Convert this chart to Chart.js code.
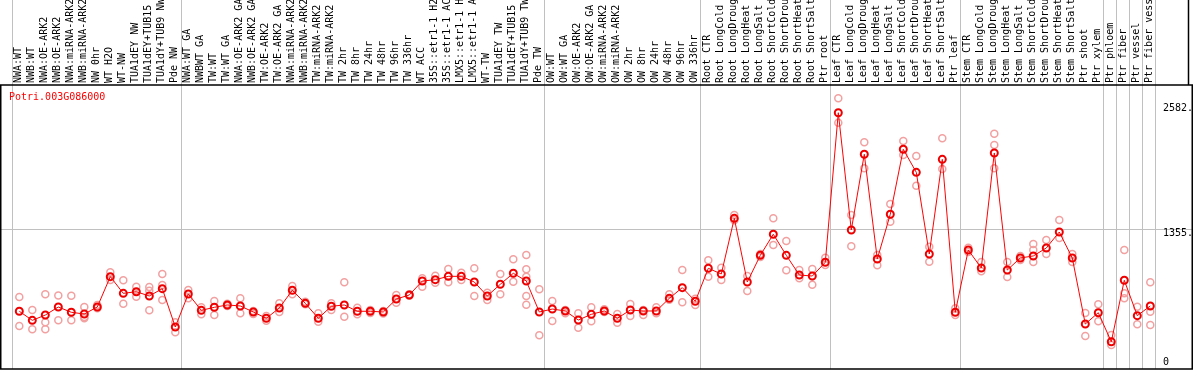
<!DOCTYPE html>
<html>
<head>
<meta charset="utf-8">
<script src="https://cdn.jsdelivr.net/npm/chart.js@4/dist/chart.umd.min.js"></script>
<style>
  html, body { margin: 0; padding: 0; background: #fff; }
  #wrap { width: 1194px; height: 370px; }
</style>
</head>
<body>
<div id="wrap"><canvas id="lineChart" width="1194" height="370"></canvas></div>
<script>
// sample names (top axis)
const labels = [
  "NWA:WT", "NWB:WT", "NWA:OE-ARK2", "NWB:OE-ARK2", "NWA:miRNA-ARK2", "NWB:miRNA-ARK2",
  "NW 0hr", "WT H2O", "WT-NW", "TUA1dEY NW", "TUA1dEY+TUB15 NW", "TUA1dY+TUB9 NW", "Pde NW",
  "NWA:WT GA", "NWBWT GA", "TW:WT", "TW:WT GA", "NWA:OE-ARK2 GA", "NWB:OE-ARK2 GA",
  "TW:OE-ARK2", "TW:OE-ARK2 GA", "NWA:miRNA-ARK2", "NWB:miRNA-ARK2", "TW:miRNA-ARK2", "TW:miRNA-ARK2",
  "TW 2hr", "TW 8hr", "TW 24hr", "TW 48hr", "TW 96hr", "TW 336hr", "WT ACC",
  "35S::etr1-1 H2O", "35S::etr1-1 ACC", "LMX5::etr1-1 H2O", "LMX5::etr1-1 ACC",
  "WT-TW", "TUA1dEY TW", "TUA1dEY+TUB15 TW", "TUA1dY+TUB9 TW", "Pde TW",
  "OW:WT", "OW:WT GA", "OW:OE-ARK2", "OW:OE-ARK2 GA", "OW:miRNA-ARK2", "OW:miRNA-ARK2",
  "OW 2hr", "OW 8hr", "OW 24hr", "OW 48hr", "OW 96hr", "OW 336hr",
  "Root CTR", "Root LongCold", "Root LongDrought", "Root LongHeat", "Root LongSalt",
  "Root ShortCold", "Root ShortDrought", "Root ShortHeat", "Root ShortSalt", "Ptr root",
  "Leaf CTR", "Leaf LongCold", "Leaf LongDrought", "Leaf LongHeat", "Leaf LongSalt",
  "Leaf ShortCold", "Leaf ShortDrought", "Leaf ShortHeat", "Leaf ShortSalt", "Ptr leaf",
  "Stem CTR", "Stem LongCold", "Stem LongDrought", "Stem LongHeat", "Stem LongSalt",
  "Stem ShortCold", "Stem ShortDrought", "Stem ShortHeat", "Stem ShortSalt", "Ptr shoot", "Ptr xylem",
  "Ptr phloem", "Ptr fiber", "Ptr vessel", "Ptr fiber vessel"
];

// mean expression per sample
const means = [
  547, 458, 510, 589, 537, 520, 589, 887, 723, 739, 697, 769, 393,
  717, 556, 586, 609, 599, 540, 478, 579, 753, 625, 478, 596, 609, 547, 547, 540,
  667, 707, 844, 857, 890, 890, 834, 697, 812, 920, 844, 540,
  569, 550, 461, 517, 550, 478, 559, 550, 550, 674, 779, 645,
  969, 913, 1459, 834, 1096, 1303, 1096, 903, 893, 1028,
  2496, 1345, 2088, 1060, 1499, 2137, 1911, 1109, 2038, 537,
  1148, 972, 2101, 952, 1070, 1090, 1168, 1325, 1070, 422, 533,
  248, 851, 504, 599
];

// replicate values per sample
const replicates = [
  [687, 402], [559, 370], [713, 439, 370], [703, 458], [700, 458], [589, 478, 491],
  [609, 576], [929, 854], [851, 622], [788, 690], [785, 556, 749], [913, 805, 658], [439, 340],
  [756, 674], [586, 517], [648, 510], [620, 598], [674, 527], [550, 520], [501, 455],
  [625, 540], [795, 713], [640, 615], [527, 445], [625, 559], [831, 494], [582, 517],
  [560, 530], [550, 525], [707, 631], [715, 700], [870, 788], [896, 828], [962, 831],
  [926, 854], [969, 697], [729, 658], [913, 713], [1057, 837], [1099, 959, 887, 697, 612], [763, 311],
  [648, 452], [527, 560], [527, 386], [586, 449], [566, 540], [520, 435], [618, 501],
  [510, 560], [586, 527], [713, 660], [952, 635], [671, 609],
  [1047, 887], [975, 854], [1492, 1440], [893, 746], [1110, 1080], [1459, 1198],
  [1237, 949], [952, 870], [962, 808], [1073, 1001],
  [2637, 2398], [1492, 1185], [2206, 1950], [1099, 998], [1600, 1426], [2218, 2081],
  [2071, 1780], [1181, 1034], [2245, 1944], [576, 510],
  [1170, 1130], [1031, 940], [2290, 2180, 1950], [1031, 883], [1090, 1050], [1207, 1148, 1031],
  [1247, 1109], [1443, 1266], [1109, 1031], [530, 304], [615, 450],
  [314, 216], [1148, 723, 674], [592, 419], [831, 543, 412]
];

// group separators: index of first sample after each divider
const groupStarts = [0, 13, 41, 53, 63, 73, 84, 85, 86, 87, 88];

const yTickValues = [0, 1355, 2582];
const yGridValues = [1355];
const geneName = "Potri.003G086000";

const FONT = "DejaVu Sans Mono";

const repPoints = [];
for (let i = 0; i < replicates.length; i++) {
  for (let j = 0; j < replicates[i].length; j++) {
    repPoints.push({ x: i, y: replicates[i][j] });
  }
}
const meanPoints = means.map((v, i) => ({ x: i, y: v }));

// gray dividers, frame, title and y labels
const decorPlugin = {
  id: 'decor',
  beforeDatasetsDraw(chart) {
    const c = chart.ctx;
    const xs = chart.scales.x;
    const ys = chart.scales.y;
    const a = chart.chartArea;
    c.save();
    c.strokeStyle = '#c0c0c0';
    c.lineWidth = 1;
    groupStarts.forEach(k => {
      const px = Math.round(xs.getPixelForValue(k - 0.6)) + 0.5;
      c.beginPath();
      c.moveTo(px, 0);
      c.lineTo(px, a.bottom);
      c.stroke();
    });
    yGridValues.forEach(v => {
      const py = Math.round(ys.getPixelForValue(v)) + 0.5;
      c.beginPath();
      c.moveTo(0, py);
      c.lineTo(1192, py);
      c.stroke();
    });
    c.restore();
  },
  afterDraw(chart) {
    const c = chart.ctx;
    const ys = chart.scales.y;
    const a = chart.chartArea;
    c.save();
    c.strokeStyle = '#000';
    c.lineWidth = 1.5;
    c.beginPath();
    c.rect(0.75, a.top, 1191.5, a.bottom - a.top);
    c.stroke();
    c.beginPath();
    c.moveTo(1188.5, 0);
    c.lineTo(1188.5, a.top);
    c.stroke();

    c.font = '10px "' + FONT + '"';
    c.fillStyle = '#ff0000';
    c.textAlign = 'left';
    c.textBaseline = 'top';
    c.fillText(geneName, 9, a.top + 7);

    c.fillStyle = '#000';
    yTickValues.forEach(v => {
      const py = ys.getPixelForValue(v);
      const txt = v === 0 ? '0' : v + '.';
      if (v === 0) {
        c.textBaseline = 'bottom';
        c.fillText(txt, 1163, py);
      } else {
        c.textBaseline = 'top';
        c.fillText(txt, 1163, py - 1);
      }
    });
    c.restore();
  }
};

const ctx = document.getElementById('lineChart').getContext('2d');
const myChart = new Chart(ctx, {
  type: 'line',
  data: {
    datasets: [{
      label: 'mean',
      data: meanPoints,
      borderColor: '#ff0000',
      borderWidth: 1,
      pointRadius: 3.5,
      pointBorderWidth: 2,
      pointBorderColor: '#ee0000',
      pointBackgroundColor: 'rgba(0,0,0,0)',
      tension: 0,
      order: 1
    }, {
      type: 'scatter',
      label: 'replicates',
      data: repPoints,
      showLine: false,
      pointRadius: 3.5,
      pointBorderWidth: 1.5,
      pointBorderColor: '#f2a0a0',
      pointBackgroundColor: 'rgba(0,0,0,0)',
      order: 2
    }]
  },
  options: {
    responsive: false,
    animation: false,
    events: [],
    layout: { autoPadding: false, padding: { left: 1, right: 39, top: 0, bottom: 1 } },
    plugins: { legend: { display: false }, tooltip: { enabled: false } },
    scales: {
      x: {
        type: 'linear',
        position: 'top',
        min: -1.408,
        max: 87.362,
        afterBuildTicks: (s) => { s.ticks = labels.map((l, i) => ({ value: i })); },
        afterFit: (s) => { s.height = 85; s.paddingLeft = 0; s.paddingRight = 0; },
        grid: { display: false, drawTicks: false },
        border: { display: false },
        ticks: {
          autoSkip: false,
          minRotation: 90,
          maxRotation: 90,
          padding: 2,
          labelOffset: 11,
          color: '#000',
          font: { family: FONT, size: 10 },
          callback: (v) => labels[v]
        }
      },
      y: {
        display: false,
        min: -19.6,
        max: 2768
      }
    }
  },
  plugins: [decorPlugin]
});
</script>
</body>
</html>
